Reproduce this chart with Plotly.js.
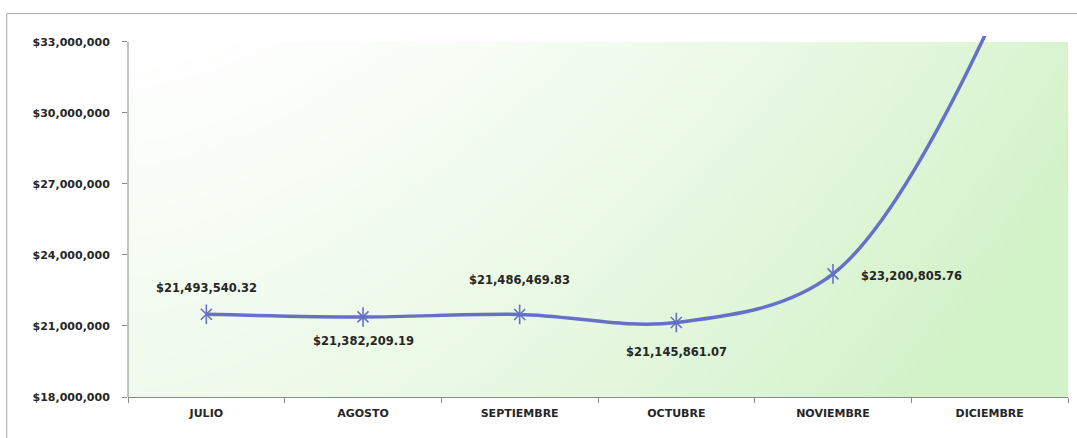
<!DOCTYPE html>
<html>
<head>
<meta charset="utf-8">
<script src="https://cdn.plot.ly/plotly-3.0.1.min.js"></script>
<style>
html,body{margin:0;padding:0;background:#fff;}
#chart{width:1077px;height:438px;}
</style>
</head>
<body>
<div id="chart"></div>
<script>
// ---- data ----
const months = ["JULIO", "AGOSTO", "SEPTIEMBRE", "OCTUBRE", "NOVIEMBRE", "DICIEMBRE"];
const totals = [21493540.32, 21382209.19, 21486469.83, 21145861.07, 23200805.76, 33700000];
const yTicks = [18000000, 21000000, 24000000, 27000000, 30000000, 33000000];
// label placement for each point: above / below / right / none
const labelPlace = ["above", "below", "above", "below", "right", "none"];

function money(v) {
  const s = v.toFixed(2);
  const parts = s.split(".");
  const int = parts[0].replace(/\B(?=(\d{3})+(?!\d))/g, ",");
  return "$" + int + "." + parts[1];
}
function moneyInt(v) {
  return "$" + String(Math.round(v)).replace(/\B(?=(\d{3})+(?!\d))/g, ",");
}

// gradient background image for plot area (white top-left -> light green right/bottom)
const W = 470, H = 178;
const cv = document.createElement("canvas");
cv.width = W; cv.height = H;
const cx = cv.getContext("2d");
const img = cx.createImageData(W, H);
const c0 = [255, 255, 255], c1 = [210, 242, 200];
for (let j = 0; j < H; j++) {
  for (let i = 0; i < W; i++) {
    const xn = i / (W - 1), yn = j / (H - 1);
    let t = 0.85 * Math.pow(xn, 1.6) + 0.35 * yn;
    if (t > 1) t = 1;
    const k = (j * W + i) * 4;
    img.data[k] = c0[0] + (c1[0] - c0[0]) * t;
    img.data[k + 1] = c0[1] + (c1[1] - c0[1]) * t;
    img.data[k + 2] = c0[2] + (c1[2] - c0[2]) * t;
    img.data[k + 3] = 255;
  }
}
cx.putImageData(img, 0, 0);
const bgURL = cv.toDataURL();

const yMin = 18000000, yTop = 33000000, yMaxRange = 33250000;
const fontFam = "DejaVu Sans, Verdana, sans-serif";
const lineColor = "#6670c9";
const textColor = "#262626";

const shifts = {above: {xs: 0, ys: 26, xa: "center"}, below: {xs: 0, ys: -24, xa: "center"}, right: {xs: 26, ys: -2, xa: "left"}};
const annotations = [];
months.forEach((m, i) => {
  const p = labelPlace[i];
  if (p === "none") return;
  let ys = shifts[p].ys;
  if (i === 2) ys = 34;
  if (i === 3) ys = -29;
  annotations.push({
    x: m, y: totals[i], xref: "x", yref: "y",
    text: "<b>" + money(totals[i]) + "</b>",
    showarrow: false,
    xshift: shifts[p].xs, yshift: ys, xanchor: shifts[p].xa, yanchor: "middle",
    font: {family: fontFam, size: 11.5, color: textColor}
  });
});

const lineTrace = {
  x: months, y: totals,
  type: "scatter", mode: "lines",
  line: {shape: "spline", smoothing: 1, color: lineColor, width: 3.5},
  cliponaxis: true, hoverinfo: "skip"
};
const markX = {
  x: months, y: totals,
  type: "scatter", mode: "markers",
  marker: {symbol: "x-thin-open", size: 11, color: lineColor, line: {color: lineColor, width: 1.6}},
  cliponaxis: true, hoverinfo: "skip"
};
const markV = {
  x: months, y: totals,
  type: "scatter", mode: "markers",
  marker: {symbol: "line-ns-open", size: 14, color: lineColor, line: {color: lineColor, width: 1.6}},
  cliponaxis: true, hoverinfo: "skip"
};

const layout = {
  width: 1077, height: 438,
  margin: {l: 128, r: 9, t: 36, b: 41},
  paper_bgcolor: "rgba(0,0,0,0)",
  plot_bgcolor: "rgba(0,0,0,0)",
  showlegend: false,
  font: {family: fontFam, color: textColor},
  xaxis: {
    type: "category",
    range: [-0.5, 5.5],
    showgrid: false, zeroline: false,
    showline: true, linecolor: "#8a8a8a", linewidth: 1,
    ticks: "outside", tickson: "boundaries", ticklen: 5, tickcolor: "#8a8a8a",
    ticklabelstandoff: 6,
    tickfont: {family: fontFam, size: 11, color: textColor, weight: "bold"}
  },
  yaxis: {
    range: [yMin, yMaxRange],
    tickvals: yTicks,
    ticktext: yTicks.map(moneyInt),
    showgrid: false, zeroline: false, showline: false,
    ticks: "outside", ticklen: 5, tickcolor: "#8a8a8a",
    ticklabelstandoff: 10,
    tickfont: {family: fontFam, size: 11, color: textColor, weight: "bold"}
  },
  images: [{
    source: bgURL, xref: "paper", yref: "paper",
    x: 0, y: (yTop - yMin) / (yMaxRange - yMin), sizex: 1, sizey: (yTop - yMin) / (yMaxRange - yMin),
    sizing: "stretch", layer: "below", xanchor: "left", yanchor: "top"
  }],
  shapes: [
    {type: "line", xref: "paper", yref: "y", x0: 0, x1: 0, y0: yMin, y1: yTop, line: {color: "#8a8a8a", width: 1}},
    {type: "rect", xref: "paper", yref: "paper", x0: -0.129, x1: 1.02, y0: -0.2, y1: 1.062, line: {color: "#a8a8a8", width: 1}, fillcolor: "rgba(0,0,0,0)", layer: "below"}
  ],
  annotations: annotations
};

Plotly.newPlot("chart", [lineTrace, markX, markV], layout, {displayModeBar: false, staticPlot: true});
</script>
</body>
</html>
